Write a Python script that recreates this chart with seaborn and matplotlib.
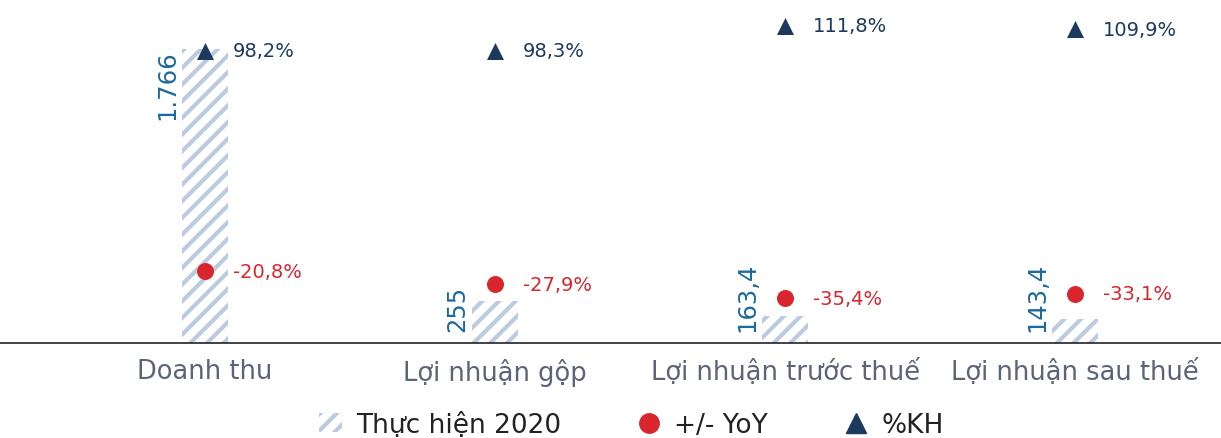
import numpy as np
import pandas as pd
import seaborn as sns
import matplotlib.pyplot as plt
from matplotlib.patches import Patch
from matplotlib.lines import Line2D

categories = ["Doanh thu", "Lợi nhuận gộp", "Lợi nhuận trước thuế", "Lợi nhuận sau thuế"]
thuc_hien = [1766, 255, 163.4, 143.4]
thuc_hien_labels = ["1.766", "255", "163,4", "143,4"]
yoy = [-20.8, -27.9, -35.4, -33.1]
yoy_labels = ["-20,8%", "-27,9%", "-35,4%", "-33,1%"]
kh = [98.2, 98.3, 111.8, 109.9]
kh_labels = ["98,2%", "98,3%", "111,8%", "109,9%"]

BAR_COLOR = "#bccbdf"
VALUE_COLOR = "#1b6a9c"
RED = "#d9262e"
NAVY = "#1b3a5e"
GRAY = "#5c6478"

sns.set_style("white")
plt.rcParams["font.family"] = ["DejaVu Sans"]
plt.rcParams["hatch.linewidth"] = 3.0

df = pd.DataFrame({"cat": categories, "value": thuc_hien, "yoy": yoy, "kh": kh})
df["pos"] = np.arange(len(df))

fig = plt.figure(figsize=(12.21, 4.39), dpi=100)
ax = fig.add_axes([0, (439 - 344) / 439, 1, 339 / 439])

sns.barplot(data=df, x="cat", y="value", ax=ax, width=0.16,
            color="white", edgecolor=BAR_COLOR, linewidth=0, hatch="//")
for p in ax.patches:
    p.set_hatch("//")
    p.set_edgecolor(BAR_COLOR)
    p.set_facecolor("white")

ymax = 1766 * 339 / 294
ax.set_ylim(0, ymax)
for i, (v, lab) in enumerate(zip(thuc_hien, thuc_hien_labels)):
    if v > 1000:
        ax.text(i - 0.088, v, lab, rotation=90, ha="right", va="top",
                color=VALUE_COLOR, fontsize=17.5)
    else:
        ax.text(i - 0.088, ymax * 0.035, lab, rotation=90, ha="right", va="bottom",
                color=VALUE_COLOR, fontsize=17.5)

ax2 = ax.twinx()
sns.scatterplot(data=df, x="pos", y="kh", ax=ax2, marker="^", s=150,
                color=NAVY, edgecolor=NAVY, linewidth=0, legend=False)
sns.scatterplot(data=df, x="pos", y="yoy", ax=ax2, marker="o", s=150,
                color=RED, edgecolor=RED, linewidth=0, legend=False)
for i in range(len(df)):
    ax2.text(i + 0.097, kh[i], kh_labels[i], ha="left", va="center",
             color=NAVY, fontsize=14)
    ax2.text(i + 0.097, yoy[i], yoy_labels[i], ha="left", va="center",
             color=RED, fontsize=14)
ax2.set_ylim(-59.7, 123.5)

for a in (ax, ax2):
    a.set_xlim(-0.707, 3.503)
    a.set_ylabel("")
    a.set_xlabel("")
    a.set_yticks([])
    for s in ("top", "right", "left", "bottom"):
        a.spines[s].set_visible(False)
ax.spines["bottom"].set_visible(True)
ax.spines["bottom"].set_color("#222222")
ax.spines["bottom"].set_linewidth(1.2)

ax.set_xticks(range(len(categories)))
ax.set_xticklabels(categories, fontsize=18.5, color=GRAY)
ax.tick_params(axis="x", length=0, pad=11)
ax2.tick_params(axis="x", length=0)

handles = [
    Patch(facecolor="white", edgecolor=BAR_COLOR, hatch="//", linewidth=0),
    Line2D([], [], marker="o", color=RED, linestyle="none", markersize=14),
    Line2D([], [], marker="^", color=NAVY, linestyle="none", markersize=14),
]
fig.legend(handles, ["Thực hiện 2020", "+/- YoY", "%KH"], loc="center",
           bbox_to_anchor=(0.517, 0.03), ncol=3, frameon=False, fontsize=19,
           columnspacing=2.9, handlelength=0.9, handletextpad=0.5,
           labelcolor="#222222", borderpad=0)

fig.savefig("out.png", dpi=100)
